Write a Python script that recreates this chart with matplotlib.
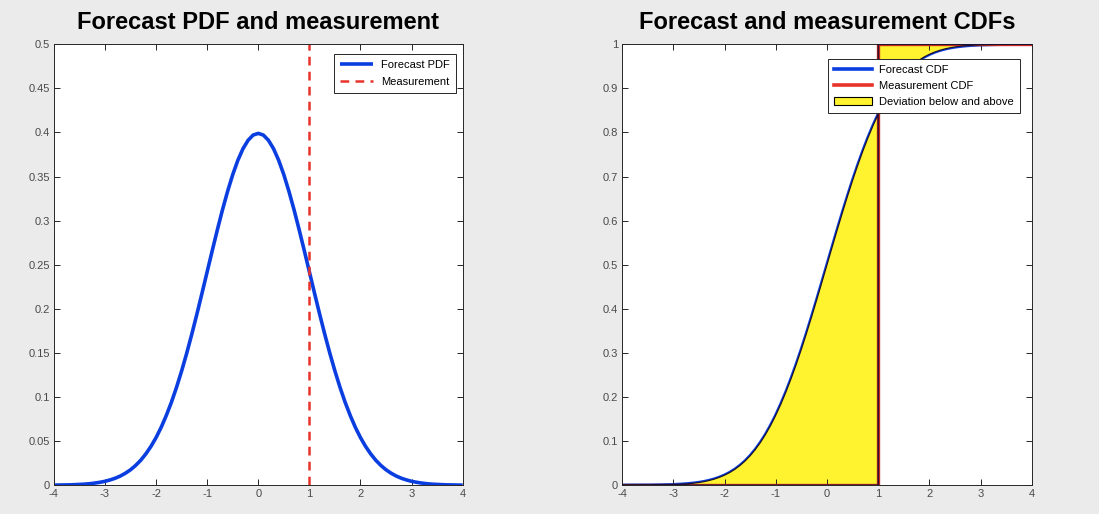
import numpy as np
import matplotlib
matplotlib.use("Agg")
import matplotlib.pyplot as plt
from matplotlib.patches import Patch
from matplotlib.lines import Line2D

plt.rcParams['font.family'] = ['Liberation Sans', 'DejaVu Sans']

# grid of x values (-4 .. 4, step 0.1)
x_vals = [round(-4 + 0.1 * i, 1) for i in range(81)]

# forecast PDF values
pdf_pos = [0.3989, 0.3970, 0.3910, 0.3814, 0.3683, 0.3521, 0.3332, 0.3123, 0.2897, 0.2661,
           0.2420, 0.2179, 0.1942, 0.1714, 0.1497, 0.1295, 0.1109, 0.0940, 0.0790, 0.0656,
           0.0540, 0.0440, 0.0355, 0.0283, 0.0224, 0.0175, 0.0136, 0.0104, 0.0079, 0.0060,
           0.0044, 0.0033, 0.0024, 0.0017, 0.0012, 0.0009, 0.0006, 0.0004, 0.0003, 0.0002,
           0.0001]
pdf_vals = pdf_pos[:0:-1] + pdf_pos

# forecast CDF values
cdf_vals = [0.0000, 0.0000, 0.0001, 0.0001, 0.0002, 0.0002, 0.0003, 0.0005, 0.0007, 0.0010,
            0.0013, 0.0019, 0.0026, 0.0035, 0.0047, 0.0062, 0.0082, 0.0107, 0.0139, 0.0179,
            0.0228, 0.0287, 0.0359, 0.0446, 0.0548, 0.0668, 0.0808, 0.0968, 0.1151, 0.1357,
            0.1587, 0.1841, 0.2119, 0.2420, 0.2743, 0.3085, 0.3446, 0.3821, 0.4207, 0.4602,
            0.5000, 0.5398, 0.5793, 0.6179, 0.6554, 0.6915, 0.7257, 0.7580, 0.7881, 0.8159,
            0.8413, 0.8643, 0.8849, 0.9032, 0.9192, 0.9332, 0.9452, 0.9554, 0.9641, 0.9713,
            0.9772, 0.9821, 0.9861, 0.9893, 0.9918, 0.9938, 0.9953, 0.9965, 0.9974, 0.9981,
            0.9987, 0.9990, 0.9993, 0.9995, 0.9997, 0.9998, 0.9998, 0.9999, 0.9999, 1.0000,
            1.0000]

measurement = 1.0
step_x = [-4, 1, 1, 4]
step_y = [0, 0, 1, 1]

left_yticks = [0, 0.05, 0.1, 0.15, 0.2, 0.25, 0.3, 0.35, 0.4, 0.45, 0.5]
left_yticklabels = ['0', '0.05', '0.1', '0.15', '0.2', '0.25', '0.3', '0.35', '0.4', '0.45', '0.5']
right_yticks = [0, 0.1, 0.2, 0.3, 0.4, 0.5, 0.6, 0.7, 0.8, 0.9, 1]
right_yticklabels = ['0', '0.1', '0.2', '0.3', '0.4', '0.5', '0.6', '0.7', '0.8', '0.9', '1']
xticks = [-4, -3, -2, -1, 0, 1, 2, 3, 4]

BG = '#ebebeb'
BLUE = '#0a3ee0'
RED = '#e8332a'
DRED = '#c8291f'
YELLOW = '#fff22e'
EDGE = '#1a1033'

x = np.array(x_vals)
pdf = np.array(pdf_vals)
cdf = np.array(cdf_vals)

fig = plt.figure(figsize=(10.99, 5.14), dpi=100, facecolor=BG)
ax1 = fig.add_axes([0.049, 0.056, 0.372, 0.858])
ax2 = fig.add_axes([0.566, 0.056, 0.373, 0.858])

def style(ax, yticks, ylabels, ylim):
    ax.set_xlim(-4, 4)
    ax.set_ylim(*ylim)
    ax.set_xticks(xticks)
    ax.set_xticklabels([str(t) for t in xticks])
    ax.set_yticks(yticks)
    ax.set_yticklabels(ylabels)
    ax.tick_params(direction='in', length=4, width=0.7, colors='#262626',
                   labelcolor='#4a4a4a', labelsize=8, top=True, right=True, pad=3)
    for s in ax.spines.values():
        s.set_color('#262626')
        s.set_linewidth(0.7)

# Left panel
ax1.plot(x, pdf, color=BLUE, lw=2.6, label='Forecast PDF', solid_capstyle='butt')
ax1.axvline(measurement, color=RED, lw=1.8, ls=(0, (3.5, 2.5)), label='Measurement')
style(ax1, left_yticks, left_yticklabels, (0, 0.5))
ax1.set_title('Forecast PDF and measurement', fontsize=17, fontweight='bold', pad=11)
leg1 = ax1.legend(loc='upper right', fontsize=8, frameon=True, fancybox=False,
                  edgecolor='#262626', framealpha=1, borderpad=0.55, handlelength=3.0,
                  labelspacing=0.6, handletextpad=0.7, bbox_to_anchor=(0.997, 0.99))
leg1.get_frame().set_linewidth(0.7)

# Right panel
below = x <= measurement
above = x >= measurement
ax2.plot(x, cdf, color=BLUE, lw=2.4, zorder=1)
ax2.fill_between(x[below], 0, cdf[below], facecolor=YELLOW, edgecolor='none', zorder=1.5)
ax2.fill_between(x[above], cdf[above], 1, facecolor=YELLOW, edgecolor='none', zorder=1.5)
ax2.plot(step_x, step_y, color=DRED, lw=2.4, zorder=2)
ax2.fill_between(x[below], 0, cdf[below], facecolor='none', edgecolor=EDGE, lw=0.9, zorder=3)
ax2.fill_between(x[above], cdf[above], 1, facecolor='none', edgecolor=EDGE, lw=0.9, zorder=3)
style(ax2, right_yticks, right_yticklabels, (0, 1))
ax2.set_title('Forecast and measurement CDFs', fontsize=17, fontweight='bold', pad=11)
handles = [Line2D([], [], color=BLUE, lw=2.6),
           Line2D([], [], color=RED, lw=2.6),
           Patch(facecolor=YELLOW, edgecolor='black', lw=0.8)]
leg2 = ax2.legend(handles, ['Forecast CDF', 'Measurement CDF', 'Deviation below and above'],
                  loc='upper right', fontsize=8, frameon=True, fancybox=False,
                  edgecolor='#262626', framealpha=1, borderpad=0.55, handlelength=3.4,
                  labelspacing=0.55, handletextpad=0.7, bbox_to_anchor=(0.985, 0.98))
leg2.get_frame().set_linewidth(0.7)
leg2.set_zorder(5)

fig.savefig('out.png', dpi=100, facecolor=BG)
